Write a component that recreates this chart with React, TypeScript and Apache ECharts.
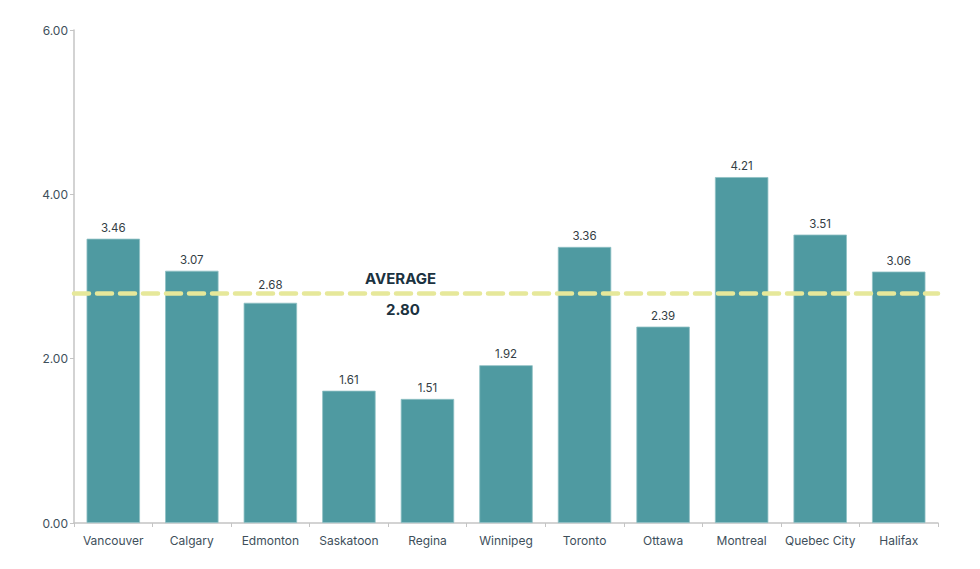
import React, { useEffect, useRef } from "react";
import * as echarts from "echarts";

const categories = ["Vancouver", "Calgary", "Edmonton", "Saskatoon", "Regina", "Winnipeg", "Toronto", "Ottawa", "Montreal", "Quebec City", "Halifax"];
const values = [3.46, 3.07, 2.68, 1.61, 1.51, 1.92, 3.36, 2.39, 4.21, 3.51, 3.06];
const averageValue = 2.8;
const averageTitle = "AVERAGE";
const yTicks = [0, 2, 4, 6];

export default function App() {
  const ref = useRef<HTMLDivElement>(null);
  useEffect(() => {
    if (!ref.current) return;
    const chart = echarts.init(ref.current, undefined, { renderer: "svg" });
    const font = "Inter, 'Noto Sans', sans-serif";
    chart.setOption({
      animation: false,
      textStyle: { fontFamily: font },
      grid: { left: 74, right: 42, top: 30, bottom: 46, containLabel: false },
      xAxis: {
        type: "category",
        data: categories,
        axisLine: { lineStyle: { color: "#c4c4c4", width: 1.5 } },
        axisTick: { show: true, length: 4, lineStyle: { color: "#c4c4c4" } },
        axisLabel: { color: "#3e4f5b", fontSize: 12, margin: 11, interval: 0, fontFamily: font },
      },
      yAxis: {
        type: "value",
        min: yTicks[0],
        max: yTicks[yTicks.length - 1],
        interval: 2,
        axisLine: { show: true, lineStyle: { color: "#c4c4c4", width: 1.5 } },
        axisTick: { show: true, length: 4, lineStyle: { color: "#c4c4c4" } },
        splitLine: { show: false },
        axisLabel: { color: "#3e4f5b", fontSize: 12, margin: 6, fontFamily: font, formatter: (v: number) => v.toFixed(2) },
      },
      series: [
        {
          type: "bar",
          data: values.map((v) => (Math.abs(v - averageValue) < 0.2 ? { value: v, label: { distance: 12 } } : v)),
          barCategoryGap: "32%",
          itemStyle: { color: "#4f9aa1", borderColor: "#8fc0c4", borderWidth: 0.8 },
          label: { show: true, position: "top", distance: 5, color: "#333d44", fontSize: 11.5, fontFamily: font, formatter: (p: any) => p.value.toFixed(2) },
          markLine: {
            silent: true,
            symbol: "none",
            data: [{ yAxis: averageValue }],
            lineStyle: { color: "#e6e89a", width: 4.5, type: [15, 8], cap: "round" },
            label: { show: false },
          },
        },
      ],
    });
    const yPix = chart.convertToPixel({ yAxisIndex: 0 }, averageValue) as number;
    chart.setOption({
      graphic: [
        { type: "text", left: 365, top: yPix - 22, style: { text: averageTitle, fontSize: 15, fontWeight: "bold", fill: "#1b3240", fontFamily: font } },
        { type: "text", left: 386, top: yPix + 9, style: { text: averageValue.toFixed(2), fontSize: 15, fontWeight: "bold", fill: "#1b3240", fontFamily: font } },
      ],
    });
    return () => chart.dispose();
  }, []);
  return <div ref={ref} style={{ position: "absolute", left: 0, top: 0, width: 980, height: 569 }} />;
}
